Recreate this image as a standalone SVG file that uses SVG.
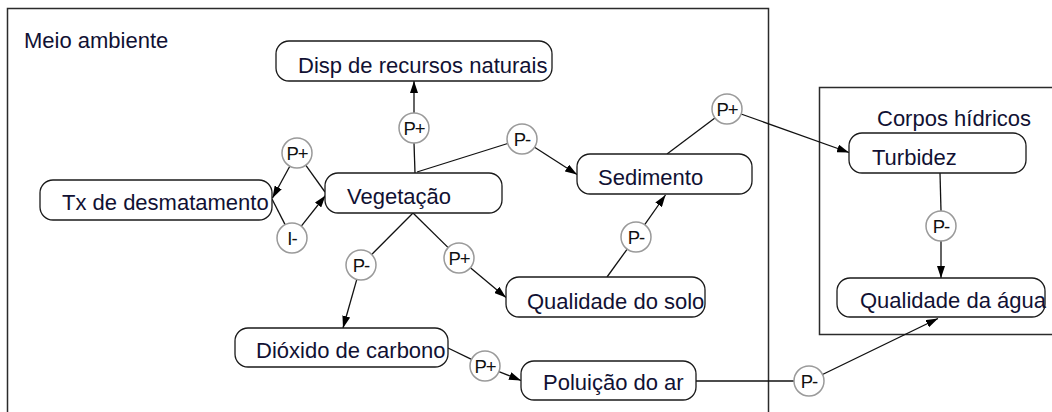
<svg xmlns="http://www.w3.org/2000/svg" width="1052" height="412" viewBox="0 0 1052 412">
<style>
.frame{fill:none;stroke:#2b2b2b;stroke-width:1.5}
.node rect{fill:#fff;stroke:#1a1a1a;stroke-width:1.3}
.lbl{font-family:"Liberation Sans",Arial,sans-serif;font-size:22px;fill:#111133}
.pol circle{fill:#fff;stroke:#9a9a9a;stroke-width:1.5}
.pol text{font-family:"Liberation Sans",Arial,sans-serif;font-size:18.5px;letter-spacing:-1px;fill:#111;text-anchor:middle}
.edge{stroke:#111;stroke-width:1.3;fill:none}
.arr{marker-end:url(#ah)}
</style>
<defs>
<marker id="ah" viewBox="0 0 12 8" refX="12" refY="4" markerWidth="12" markerHeight="8" markerUnits="userSpaceOnUse" orient="auto">
<path d="M0,0 L12,4 L0,8 z" fill="#000"/>
</marker>
</defs>
<rect width="1052" height="412" fill="#fff"/>
<g id="meio-ambiente">
<rect class="frame" x="7.5" y="8.5" width="761" height="420"/>
<text class="lbl" x="24" y="48">Meio ambiente</text>
</g>
<g id="corpos-hidricos">
<rect class="frame" x="819.5" y="87.5" width="250" height="247"/>
<text class="lbl" x="877" y="126">Corpos hídricos</text>
</g>
<g id="connectors">
<line class="edge" x1="415" y1="173" x2="414" y2="143"/>
<line class="edge arr" x1="414" y1="113" x2="414" y2="81"/>
<line class="edge" x1="417" y1="172" x2="507.7" y2="143.5"/>
<line class="edge arr" x1="534.6" y1="147.2" x2="577" y2="174.5"/>
<line class="edge" x1="325" y1="192" x2="305.7" y2="165.2"/>
<line class="edge arr" x1="289.8" y1="166.2" x2="272.5" y2="198"/>
<line class="edge" x1="272" y1="199" x2="285.1" y2="224.6"/>
<line class="edge arr" x1="301.3" y1="226.2" x2="325.5" y2="195.5"/>
<line class="edge" x1="413" y1="213" x2="371.7" y2="254.5"/>
<line class="edge arr" x1="356.8" y1="279.4" x2="343" y2="328"/>
<line class="edge" x1="413" y1="213" x2="448.2" y2="247.6"/>
<line class="edge arr" x1="470.4" y1="267.7" x2="506" y2="297.5"/>
<line class="edge" x1="607" y1="277" x2="627.2" y2="249.1"/>
<line class="edge arr" x1="644.7" y1="224.7" x2="665.5" y2="195"/>
<line class="edge" x1="667" y1="154" x2="714.9" y2="117.9"/>
<line class="edge arr" x1="741.1" y1="114" x2="849" y2="152.5"/>
<line class="edge" x1="940" y1="173" x2="941" y2="211"/>
<line class="edge arr" x1="941" y1="241" x2="941" y2="278"/>
<line class="edge" x1="448" y1="348" x2="471.5" y2="359.4"/>
<line class="edge arr" x1="498.9" y1="371.6" x2="521" y2="380.5"/>
<line class="edge" x1="696" y1="381" x2="794" y2="381"/>
<line class="edge arr" x1="822.5" y1="374.5" x2="938" y2="318.5"/>
</g>
<g id="polarities" class="pol">
<g id="pol-veg-disp"><circle cx="414" cy="128" r="15"/><text x="414" y="134.5">P+</text></g>
<g id="pol-veg-sed"><circle cx="522" cy="139" r="15"/><text x="522" y="145.5">P-</text></g>
<g id="pol-veg-tx"><circle cx="297" cy="153" r="15"/><text x="297" y="159.5">P+</text></g>
<g id="pol-tx-veg"><circle cx="292" cy="238" r="15"/><text x="292" y="244.5">I-</text></g>
<g id="pol-veg-co2"><circle cx="361" cy="265" r="15"/><text x="361" y="271.5">P-</text></g>
<g id="pol-veg-solo"><circle cx="459" cy="258" r="15"/><text x="459" y="264.5">P+</text></g>
<g id="pol-solo-sed"><circle cx="636" cy="237" r="15"/><text x="636" y="243.5">P-</text></g>
<g id="pol-sed-turb"><circle cx="727" cy="109" r="15"/><text x="727" y="115.5">P+</text></g>
<g id="pol-turb-agua"><circle cx="941" cy="226" r="15"/><text x="941" y="232.5">P-</text></g>
<g id="pol-co2-ar"><circle cx="485" cy="366" r="15"/><text x="485" y="372.5">P+</text></g>
<g id="pol-ar-agua"><circle cx="809" cy="381" r="15"/><text x="809" y="387.5">P-</text></g>
</g>
<g id="node-disp" class="node"><rect x="276" y="41" width="276" height="40" rx="13"/><text class="lbl" x="298" y="73">Disp de recursos naturais</text></g>
<g id="node-tx" class="node"><rect x="40" y="180" width="232" height="40" rx="13"/><text class="lbl" x="62" y="210">Tx de desmatamento</text></g>
<g id="node-veg" class="node"><rect x="325" y="173" width="177" height="40" rx="13"/><text class="lbl" x="347" y="204">Vegetação</text></g>
<g id="node-sed" class="node"><rect x="577" y="154" width="175" height="40" rx="13"/><text class="lbl" x="598" y="185">Sedimento</text></g>
<g id="node-solo" class="node"><rect x="506" y="277" width="199" height="40" rx="13"/><text class="lbl" x="527" y="309">Qualidade do solo</text></g>
<g id="node-co2" class="node"><rect x="235" y="328" width="213" height="39" rx="13"/><text class="lbl" x="256" y="358">Dióxido de carbono</text></g>
<g id="node-ar" class="node"><rect x="521" y="361" width="175" height="39" rx="13"/><text class="lbl" x="543" y="390">Poluição do ar</text></g>
<g id="node-turb" class="node"><rect x="849" y="133" width="177" height="40" rx="13"/><text class="lbl" x="872" y="165">Turbidez</text></g>
<g id="node-agua" class="node"><rect x="837" y="278" width="208" height="39" rx="13"/><text class="lbl" x="860" y="308">Qualidade da água</text></g>
</svg>
